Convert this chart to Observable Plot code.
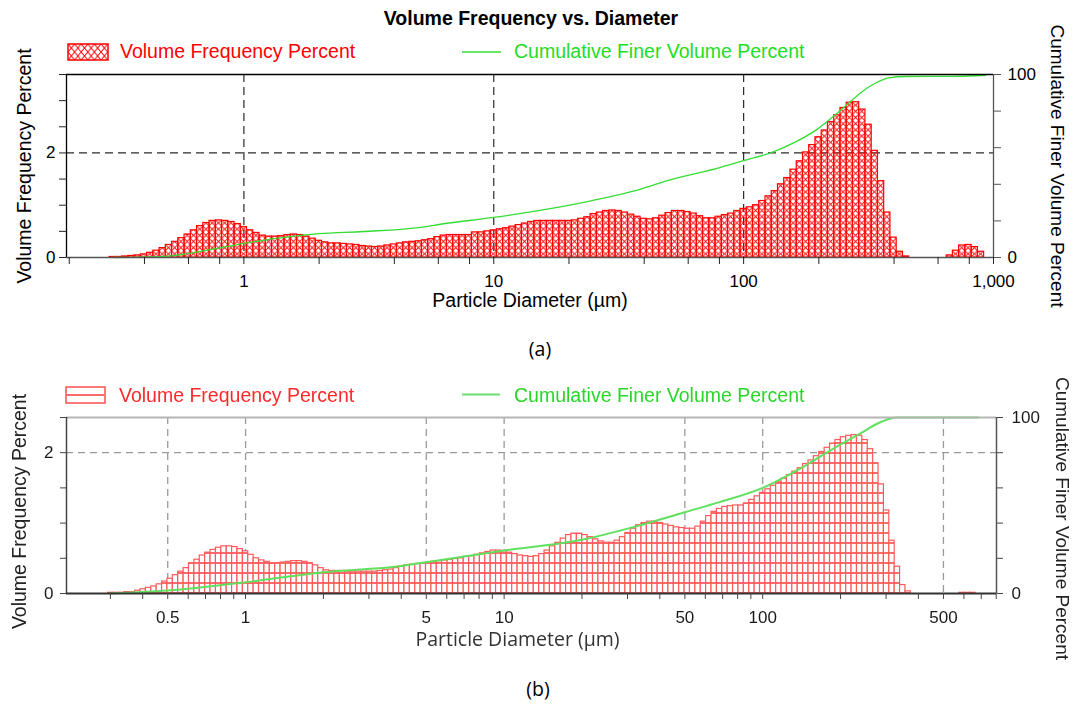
<!DOCTYPE html>
<html><head><meta charset="utf-8">
<script src="https://cdn.jsdelivr.net/npm/d3@7"></script>
<script src="https://cdn.jsdelivr.net/npm/@observablehq/plot@0.6"></script>
<style>
html,body{margin:0;padding:0;background:#fff;overflow:hidden;}
#page{position:relative;width:1075px;height:704px;overflow:hidden;background:#fff;}
#page svg{position:absolute;left:0;max-width:none;}
</style></head>
<body><div id="page"></div>
<script>
// ---------- texts ----------
const TITLE = "Volume Frequency vs. Diameter";
const LEG_FREQ = "Volume Frequency Percent";
const LEG_CUM = "Cumulative Finer Volume Percent";
const X_TITLE = "Particle Diameter (µm)";
const Y_TITLE = "Volume Frequency Percent";
const Y2_TITLE = "Cumulative Finer Volume Percent";
const CAPTIONS = ["(a)", "(b)"];

// ---------- panel (a) data: 40 channels per decade, first channel index -21 (10^(-21/40) µm) ----------
const A_BINS_PER_DECADE = 40;
const A_FIRST_CHANNEL = -21;
const A_FREQ = [
 0.01,0.01,0.02,0.03,0.04,0.06,0.09,0.13,0.18,0.24,
 0.30,0.37,0.44,0.52,0.60,0.66,0.70,0.71,0.70,0.68,
 0.64,0.58,0.52,0.47,0.42,0.40,0.40,0.41,0.43,0.44,
 0.43,0.40,0.36,0.32,0.29,0.27,0.27,0.26,0.25,0.24,
 0.22,0.21,0.20,0.21,0.23,0.25,0.27,0.29,0.30,0.31,
 0.33,0.35,0.39,0.42,0.43,0.43,0.43,0.43,0.48,0.48,
 0.50,0.52,0.54,0.56,0.59,0.62,0.65,0.68,0.70,0.70,
 0.70,0.70,0.70,0.70,0.71,0.74,0.77,0.83,0.86,0.89,
 0.90,0.89,0.86,0.82,0.78,0.74,0.73,0.75,0.80,0.85,
 0.89,0.89,0.87,0.84,0.79,0.75,0.75,0.78,0.81,0.84,
 0.89,0.93,0.96,1.00,1.08,1.17,1.27,1.40,1.52,1.68,
 1.84,2.01,2.15,2.30,2.43,2.59,2.72,2.86,2.96,2.97,
 2.83,2.54,2.04,1.46,0.86,0.38,0.11,0.02,0,0,
 0,0,0,0,0.04,0.13,0.23,0.24,0.20,0.11
];
const A_CUM_D = [0.3,0.5,0.7,1,1.5,2,3,5,6.2,10,15.5,24.5,38.8,49.5,81,100,130,160,198,231,262,296,336,381,446,700,930];
const A_CUM_P = [0,0.8,3.7,7.7,11.3,13,14.2,16.3,18.3,21.9,25.9,31,37.4,42,49.3,52.9,57.5,62.9,70.3,77.6,84,90.3,95.2,98.2,98.9,99,99.6];
const A_X_TICKS = [0.2,0.4,0.6,0.8,1,2,4,6,8,10,20,40,60,80,100,200,400,600,800,1000];
const A_X_LABELED = [1,10,100,1000];
const A_X_LABELS = ["1","10","100","1,000"];
const A_X_GRID = [1,10,100];
const A_Y_TICKS = [0,0.5,1,1.5,2,2.5,3,3.5];
const A_Y_LABELED = [0,2];
const A_Y_GRID = [2];
const A_Y2_TICKS = [0,20,40,60,80,100];
const A_Y2_LABELED = [0,100];

// ---------- panel (b) data: 48 channels per decade, first channel index -25 ----------
const B_BINS_PER_DECADE = 48;
const B_FIRST_CHANNEL = -25;
const B_FREQ = [
 0.01,0.01,0.01,0.02,0.02,0.04,0.06,0.08,0.10,0.13,
 0.17,0.21,0.26,0.31,0.36,0.43,0.48,0.54,0.58,0.62,
 0.65,0.67,0.67,0.66,0.63,0.60,0.55,0.50,0.47,0.45,
 0.43,0.43,0.44,0.45,0.46,0.46,0.45,0.43,0.40,0.36,
 0.33,0.32,0.32,0.32,0.31,0.31,0.31,0.31,0.31,0.31,
 0.32,0.33,0.34,0.36,0.38,0.40,0.41,0.42,0.43,0.44,
 0.45,0.46,0.47,0.48,0.49,0.50,0.52,0.53,0.55,0.57,
 0.59,0.61,0.61,0.60,0.58,0.56,0.54,0.53,0.52,0.53,
 0.56,0.61,0.67,0.72,0.78,0.83,0.85,0.85,0.83,0.80,
 0.77,0.74,0.72,0.72,0.75,0.80,0.86,0.92,0.97,1.00,
 1.02,1.02,1.00,0.98,0.96,0.94,0.93,0.92,0.92,0.95,
 1.02,1.10,1.16,1.20,1.23,1.24,1.25,1.25,1.28,1.33,
 1.38,1.43,1.48,1.53,1.58,1.63,1.68,1.73,1.78,1.84,
 1.89,1.95,2.01,2.07,2.13,2.18,2.22,2.24,2.25,2.24,
 2.18,2.05,1.85,1.55,1.18,0.75,0.38,0.12,0.03,0,
 0,0,0,0,0,0,0,0,0.01,0.01,
 0.01
];
const B_CUM_D = [0.3,0.5,1,2,4,5,10,20,31.6,50,68,100,139,187,237,285,330,400,680];
const B_CUM_P = [0,1.7,6.4,12.1,15.6,17.8,24.4,30.5,37.7,46.2,51.9,60,70.8,82.2,90.7,97.3,100,100,100];
const B_X_TICKS = [0.3,0.4,0.5,0.6,0.7,0.8,0.9,1,2,3,4,5,6,7,8,9,10,20,30,40,50,60,70,80,90,100,200,300,400,500,600,700,800];
const B_X_LABELED = [0.5,1,5,10,50,100,500];
const B_X_LABELS = ["0.5","1","5","10","50","100","500"];
const B_X_GRID = [0.5,1,5,10,50,100,500];
const B_Y_TICKS = [0,0.5,1,1.5,2,2.5];
const B_Y_LABELED = [0,2];
const B_Y_GRID = [2];
const B_Y2_TICKS = [0,20,40,60,80,100];
const B_Y2_LABELED = [0,100];

// ---------- helpers ----------
const NS = "http://www.w3.org/2000/svg";
const FONT = "'Liberation Sans', Arial, Helvetica, sans-serif";
const page = document.getElementById("page");
function channels(freq, first, bpd) {
  return freq.map((v, i) => ({x1: 10 ** ((first + i - 0.5) / bpd), x2: 10 ** ((first + i + 0.5) / bpd), v}))
             .filter(d => d.v > 0);
}
function addDefs(svg, inner) {
  const defs = document.createElementNS(NS, "defs");
  defs.innerHTML = inner;
  svg.insertBefore(defs, svg.firstChild);
}

// ---------- panel (a) ----------
const YMAX_A = 3.5, XDOM_A = [0.195, 1000];
const barsA = channels(A_FREQ, A_FIRST_CHANNEL, A_BINS_PER_DECADE);
const svgA = Plot.plot({
  width: 1075, height: 330,
  marginTop: 74, marginRight: 82, marginBottom: 73, marginLeft: 66,
  style: {fontFamily: FONT, fontSize: "17px", background: "transparent", overflow: "visible", color: "#000"},
  x: {type: "log", domain: XDOM_A, label: null},
  y: {domain: [0, YMAX_A], label: null},
  marks: [
    Plot.gridX({ticks: A_X_GRID, stroke: "#2a2a2a", strokeOpacity: 1, strokeWidth: 1.2, strokeDasharray: "8,5"}),
    Plot.gridY({ticks: A_Y_GRID, stroke: "#2a2a2a", strokeOpacity: 1, strokeWidth: 1.2, strokeDasharray: "8,5"}),
    Plot.rect(barsA, {x1: "x1", x2: "x2", y1: 0, y2: "v", fill: "url(#hatchA)", stroke: "#ff0000", strokeWidth: 1.2}),
    Plot.line(A_CUM_D, {x: d => d, y: (d, i) => A_CUM_P[i] * YMAX_A / 100, stroke: "#33dd33", strokeWidth: 1.3, curve: "monotone-x"}),
    Plot.ruleY([YMAX_A], {stroke: "#000", strokeWidth: 1.3}),
    Plot.ruleX([XDOM_A[0]], {stroke: "#000", strokeWidth: 1.3}),
    Plot.ruleX([XDOM_A[1]], {stroke: "#555", strokeWidth: 1.3}),
    Plot.ruleY([0], {stroke: "#555", strokeWidth: 1.6}),
    Plot.axisX({ticks: A_X_TICKS, tickFormat: () => "", tickSize: 7, stroke: "#222", label: null}),
    Plot.text(A_X_LABELED, {x: d => d, y: 0, text: (d, i) => A_X_LABELS[i], dy: 17, lineAnchor: "top", fill: "#000"}),
    Plot.axisY({anchor: "left", ticks: A_Y_TICKS, tickFormat: d => A_Y_LABELED.includes(d) ? String(d) : "", tickSize: 7, tickPadding: 4, stroke: "#222", fill: "#000", label: null}),
    Plot.axisY({anchor: "right", ticks: A_Y2_TICKS.map(p => p * YMAX_A / 100),
      tickFormat: v => { const p = Math.round(v * 100 / YMAX_A); return A_Y2_LABELED.includes(p) ? String(p) : ""; },
      tickSize: 7, tickPadding: 7, stroke: "#555", fill: "#000", label: null}),
    Plot.text([X_TITLE], {text: d => d, frameAnchor: "bottom", dy: 43, fontSize: 19.5, fill: "#000", textAnchor: "middle", lineAnchor: "middle"}),
    Plot.text([Y_TITLE], {text: d => d, frameAnchor: "left", dx: -42, rotate: -90, fontSize: 19.5, fill: "#000", textAnchor: "middle", lineAnchor: "middle"}),
    Plot.text([Y2_TITLE], {text: d => d, frameAnchor: "right", dx: 64, rotate: 90, fontSize: 19, fill: "#000", textAnchor: "middle", lineAnchor: "middle"})
  ]
});
svgA.style.top = "0px";
{
  const xs = svgA.scale("x");
  const w = xs.apply(10 ** (1 / A_BINS_PER_DECADE)) - xs.apply(1);
  const off = xs.apply(barsA[0].x1);
  const h = 6.2;
  addDefs(svgA, `<pattern id="hatchA" patternUnits="userSpaceOnUse" x="${off}" y="${257 % h}" width="${w}" height="${h}">
    <path d="M0,0L${w},${h}M${w},0L0,${h}" stroke="#ff0000" stroke-width="0.9" fill="none"/></pattern>`);
}
page.appendChild(svgA);

// ---------- panel (b) ----------
const YMAX_B = 2.5, XDOM_B = [0.203, 802];
const barsB = channels(B_FREQ, B_FIRST_CHANNEL, B_BINS_PER_DECADE);
const svgB = Plot.plot({
  width: 1075, height: 364,
  marginTop: 77, marginRight: 79, marginBottom: 111, marginLeft: 66,
  style: {fontFamily: FONT, fontSize: "17px", background: "transparent", overflow: "visible", color: "#222"},
  x: {type: "log", domain: XDOM_B, label: null},
  y: {domain: [0, YMAX_B], label: null},
  marks: [
    Plot.gridX({ticks: B_X_GRID, stroke: "#9a9a9a", strokeOpacity: 1, strokeWidth: 1.3, strokeDasharray: "7,5"}),
    Plot.gridY({ticks: B_Y_GRID, stroke: "#9a9a9a", strokeOpacity: 1, strokeWidth: 1.3, strokeDasharray: "7,5"}),
    Plot.rect(barsB, {x1: "x1", x2: "x2", y1: 0, y2: "v", fill: "url(#hatchB)", stroke: "#ff5a5a", strokeWidth: 1.2}),
    Plot.line(B_CUM_D, {x: d => d, y: (d, i) => B_CUM_P[i] * YMAX_B / 100, stroke: "#5fe05f", strokeWidth: 2, curve: "monotone-x"}),
    Plot.ruleY([YMAX_B], {stroke: "#b5b5b5", strokeWidth: 2.2}),
    Plot.ruleX([XDOM_B[0]], {stroke: "#444", strokeWidth: 1.5}),
    Plot.ruleX([XDOM_B[1]], {stroke: "#555", strokeWidth: 1.5}),
    Plot.ruleY([0], {stroke: "#333", strokeWidth: 2}),
    Plot.axisX({ticks: B_X_TICKS, tickFormat: () => "", tickSize: 6, stroke: "#444", label: null}),
    Plot.text(B_X_LABELED, {x: d => d, y: 0, text: (d, i) => B_X_LABELS[i], dy: 17, lineAnchor: "top", fill: "#1a1a1a"}),
    Plot.axisY({anchor: "left", ticks: B_Y_TICKS, tickFormat: d => B_Y_LABELED.includes(d) ? String(d) : "", tickSize: 6, tickPadding: 7, stroke: "#444", fill: "#1a1a1a", label: null}),
    Plot.axisY({anchor: "right", ticks: B_Y2_TICKS.map(p => p * YMAX_B / 100),
      tickFormat: v => { const p = Math.round(v * 100 / YMAX_B); return B_Y2_LABELED.includes(p) ? String(p) : ""; },
      tickSize: 6, tickPadding: 9, stroke: "#444", fill: "#1a1a1a", label: null}),
    Plot.text([X_TITLE], {text: d => d, frameAnchor: "bottom", dx: -14, dy: 46, fontSize: 19.5, fontFamily: "'Open Sans', sans-serif", fill: "#333", textAnchor: "middle", lineAnchor: "middle"}),
    Plot.text([Y_TITLE], {text: d => d, frameAnchor: "left", dx: -47, dy: 6, rotate: -90, fontSize: 19.5, fill: "#222", textAnchor: "middle", lineAnchor: "middle"}),
    Plot.text([Y2_TITLE], {text: d => d, frameAnchor: "right", dx: 66, dy: 13, rotate: 90, fontSize: 19, fill: "#222", textAnchor: "middle", lineAnchor: "middle"})
  ]
});
svgB.style.top = "340px";
svgB.style.filter = "blur(0.35px)";
{
  const h = 10;
  addDefs(svgB, `<pattern id="hatchB" patternUnits="userSpaceOnUse" x="0" y="${253 % h}" width="10" height="${h}">
    <rect width="10" height="${h}" fill="#fff"/><rect y="-1" width="10" height="2" fill="#ff6a6a"/><rect y="${h - 1}" width="10" height="2" fill="#ff6a6a"/></pattern>`);
}
page.appendChild(svgB);

// ---------- overlay: title, legends, captions ----------
const ov = document.createElementNS(NS, "svg");
ov.setAttribute("width", 1075); ov.setAttribute("height", 704);
ov.style.top = "0px";
ov.innerHTML = `
<defs>
 <pattern id="hatchAL" patternUnits="userSpaceOnUse" x="68" y="44" width="6.6" height="8">
  <path d="M0,0L6.6,8M6.6,0L0,8" stroke="#ff0000" stroke-width="1" fill="none"/></pattern>
</defs>
<g font-family="${FONT}">
 <text x="531" y="25" text-anchor="middle" font-weight="bold" font-size="19.5" fill="#000">${TITLE}</text>
 <rect x="68" y="44" width="40" height="16" fill="url(#hatchAL)" stroke="#ff0000" stroke-width="1.5"/>
 <text x="120" y="57.5" font-size="19.5" fill="#ff0000">${LEG_FREQ}</text>
 <line x1="462" x2="501" y1="52" y2="52" stroke="#33dd33" stroke-width="1.4"/>
 <text x="514" y="57.5" font-size="19.5" fill="#22dd22">${LEG_CUM}</text>
 <g style="filter:blur(0.35px)">
  <rect x="66" y="387" width="39" height="16" fill="#fff" stroke="#ff5a5a" stroke-width="1.6"/>
  <line x1="66" x2="105" y1="395" y2="395" stroke="#ff6a6a" stroke-width="2"/>
  <text x="119" y="402.3" font-size="19.5" fill="#ff2a2a">${LEG_FREQ}</text>
  <line x1="462" x2="500" y1="394.5" y2="394.5" stroke="#6ee06e" stroke-width="2.2"/>
  <text x="514" y="402.3" font-size="19.5" fill="#2bd62b">${LEG_CUM}</text>
 </g>
</g>
<text x="540" y="356" text-anchor="middle" font-family="'Open Sans', sans-serif" font-size="19.5" fill="#000">${CAPTIONS[0]}</text>
<text x="538" y="696" text-anchor="middle" font-family="'Open Sans', sans-serif" font-size="19.5" fill="#000">${CAPTIONS[1]}</text>
`;
page.appendChild(ov);
</script>
</body></html>
